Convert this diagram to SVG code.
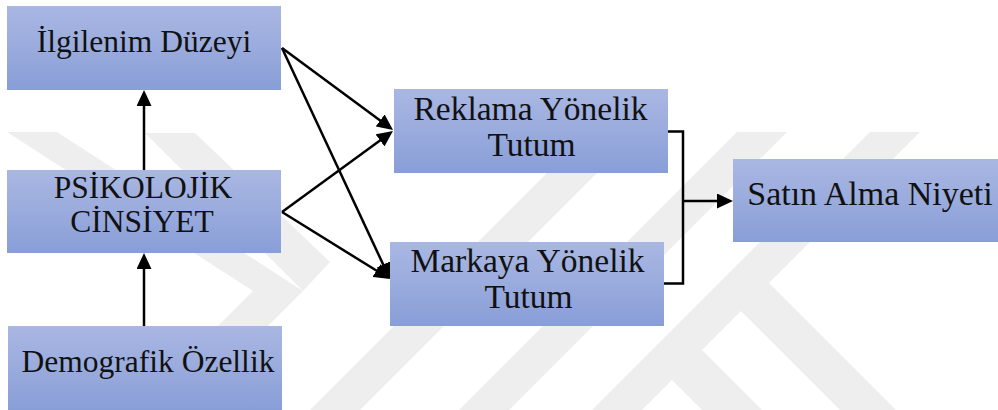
<svg xmlns="http://www.w3.org/2000/svg" width="998" height="410" viewBox="0 0 998 410">
  <defs>
    <linearGradient id="boxFill" x1="0" y1="0" x2="0" y2="1">
      <stop offset="0" stop-color="#A9B7E2"/>
      <stop offset="0.5" stop-color="#9AABDD"/>
      <stop offset="1" stop-color="#889ED7"/>
    </linearGradient>
    <marker id="arrow" viewBox="0 0 16 15" markerUnits="userSpaceOnUse" markerWidth="16" markerHeight="15" refX="8" refY="7.5" orient="auto">
      <path d="M0,0 L16,7.5 L0,15 Z" fill="#000"/>
    </marker>
    <style>
      .box { fill: url(#boxFill); }
      .lbl { font-family: "Liberation Serif", "Times New Roman", serif; fill: #111; text-anchor: middle; }
      .left { font-size: 31.5px; }
      .right { font-size: 33.5px; }
      .edge { fill: none; stroke: #000; stroke-width: 2.5; }
      .mark { fill: #EEEEEE; }
    </style>
  </defs>

  <rect width="998" height="410" fill="#FFFFFF"/>

  <!-- faint background emblem -->
  <g id="emblem">
    <polygon class="mark" points="7,132 57,132 303,291 184,410 134,410 253,291"/>
    <polygon class="mark" points="145,133 195,133 330,262 303,291"/>
    <polygon class="mark" points="588,132 638,132 360,410 310,410"/>
    <polygon class="mark" points="737,132 787,132 509,410 459,410"/>
    <polygon class="mark" points="870,132 920,132 642,410 592,410"/>
    <polygon class="mark" points="769,283 896,410 840,410 740,310"/>
    <polygon class="mark" points="702,350 762,410 702,410 672,380"/>
  </g>

  <g id="connectors">
    <line class="edge" x1="144" y1="170" x2="144" y2="98" marker-end="url(#arrow)"/>
    <line class="edge" x1="144" y1="326" x2="144" y2="261" marker-end="url(#arrow)"/>
    <line class="edge" x1="282" y1="48" x2="386.6" y2="125.2" marker-end="url(#arrow)"/>
    <line class="edge" x1="282" y1="48" x2="386.6" y2="271.8" marker-end="url(#arrow)"/>
    <line class="edge" x1="282" y1="212" x2="386.5" y2="135.7" marker-end="url(#arrow)"/>
    <line class="edge" x1="282" y1="212" x2="383.2" y2="274.8" marker-end="url(#arrow)"/>
    <path class="edge" d="M668,131.5 H683 V283.5 H664"/>
    <line class="edge" x1="683" y1="201" x2="725" y2="201" marker-end="url(#arrow)"/>
  </g>

  <g id="ilgilenim">
    <rect class="box" x="7" y="6" width="274" height="84"/>
    <text class="lbl left" x="144" y="52">İlgilenim Düzeyi</text>
  </g>

  <g id="psikolojik">
    <rect class="box" x="7" y="170" width="274" height="83"/>
    <text class="lbl left" x="143" y="198">PSİKOLOJİK</text>
    <text class="lbl left" x="142" y="232">CİNSİYET</text>
  </g>

  <g id="demografik">
    <rect class="box" x="8" y="326" width="274" height="84"/>
    <text class="lbl left" x="148" y="372">Demografik Özellik</text>
  </g>

  <g id="reklama">
    <rect class="box" x="394" y="89" width="274" height="84"/>
    <text class="lbl right" x="530.5" y="120">Reklama Yönelik</text>
    <text class="lbl right" x="531.5" y="156">Tutum</text>
  </g>

  <g id="markaya">
    <rect class="box" x="390" y="242" width="274" height="84"/>
    <text class="lbl right" x="527.5" y="272">Markaya Yönelik</text>
    <text class="lbl right" x="528.5" y="308">Tutum</text>
  </g>

  <g id="satin-alma">
    <rect class="box" x="733" y="159" width="266" height="83"/>
    <text class="lbl right" x="870" y="205" style="font-size:34px">Satın Alma Niyeti</text>
  </g>
</svg>
